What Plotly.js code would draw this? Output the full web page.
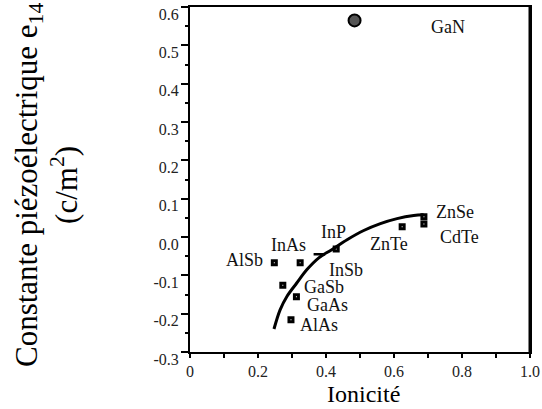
<!DOCTYPE html>
<html>
<head>
<meta charset="utf-8">
<script src="https://cdn.plot.ly/plotly-3.0.1.min.js"></script>
<style>html,body{margin:0;padding:0;background:#fff;}#chart{width:542px;height:409px;}</style>
</head>
<body>
<div id="chart"></div>
<script>
// ---- data ----
const compounds = ["GaN", "ZnSe", "CdTe", "ZnTe", "InP", "InAs", "AlSb", "InSb", "GaSb", "GaAs", "AlAs"];
const ionicity  = [0.484, 0.688, 0.688, 0.624, 0.430, 0.324, 0.248, 0.380, 0.273, 0.313, 0.297];
const e14       = [0.565, 0.053, 0.034, 0.027, -0.031, -0.067, -0.067, -0.045, -0.126, -0.156, -0.216];

const curveX = [0.247, 0.265, 0.285, 0.314, 0.344, 0.378, 0.417, 0.462, 0.511, 0.560, 0.609, 0.658, 0.687];
const curveY = [-0.240, -0.190, -0.155, -0.120, -0.085, -0.055, -0.033, -0.007, 0.017, 0.035, 0.048, 0.056, 0.058];

const xTickVals = [0, 0.2, 0.4, 0.6, 0.8, 1.0];
const xTickText = ["0", "0.2", "0.4", "0.6", "0.8", "1.0"];
const yTickVals = [-0.3, -0.2, -0.1, 0.0, 0.1, 0.2, 0.3, 0.4, 0.5, 0.6];
const yTickText = ["-0.3", "-0.2", "-0.1", "0.0", "0.1", "0.2", "0.3", "0.4", "0.5", "0.6"];

// ---- styles ----
const serif = "\"Liberation Serif\", \"Times New Roman\", serif";
const labelStyle = {
  GaN:  {anchor: "left",   dx: 74,  dy: -7},
  ZnSe: {anchor: "left",   dx: 10,  dy: 5},
  CdTe: {anchor: "left",   dx: 14,  dy: -13},
  ZnTe: {anchor: "left",   dx: -34, dy: -17},
  InP:  {anchor: "center", dx: -3,  dy: 17},
  InAs: {anchor: "center", dx: -12, dy: 18},
  AlSb: {anchor: "right",  dx: -9,  dy: 3},
  InSb: {anchor: "left",   dx: 8,   dy: -16},
  GaSb: {anchor: "left",   dx: 19,  dy: -2},
  GaAs: {anchor: "left",   dx: 9,   dy: -8},
  AlAs: {anchor: "left",   dx: 7,   dy: -5}
};

function pick(pred) {
  const xs = [], ys = [];
  compounds.forEach((c, i) => { if (pred(c)) { xs.push(ionicity[i]); ys.push(e14[i]); } });
  return {xs, ys};
}
const sq = pick(c => c !== "GaN" && c !== "InSb");
const dash = pick(c => c === "InSb");
const gan = pick(c => c === "GaN");

const traces = [
  {x: curveX, y: curveY, mode: "lines", line: {color: "#000", width: 3, shape: "spline"}, hoverinfo: "skip"},
  {x: sq.xs, y: sq.ys, mode: "markers",
   marker: {symbol: "square-open", size: 4, color: "#000", line: {color: "#000", width: 3}}},
  {x: dash.xs, y: dash.ys, mode: "markers",
   marker: {symbol: "line-ew", size: 8, color: "#000", line: {color: "#000", width: 2.5}}},
  {x: gan.xs, y: gan.ys, mode: "markers",
   marker: {symbol: "circle", size: 12, color: "#555", line: {color: "#000", width: 2}}}
];

const annotations = compounds.map((c, i) => ({
  x: ionicity[i], y: e14[i], xref: "x", yref: "y", text: c, showarrow: false,
  xanchor: labelStyle[c].anchor, yanchor: "middle",
  xshift: labelStyle[c].dx, yshift: labelStyle[c].dy,
  font: {family: serif, size: 18, color: "#111"}
}));
annotations.push({
  xref: "paper", yref: "paper", x: -0.4235, y: 0.484, xanchor: "center", yanchor: "middle",
  textangle: -90, showarrow: false,
  text: "Constante piézoélectrique e<sub>14</sub><br>(c/m<sup>2</sup>)",
  font: {family: serif, size: 31, color: "#000"}
});
annotations.push({
  xref: "paper", yref: "paper", x: 0.509, y: -0.121, xanchor: "center", yanchor: "middle",
  showarrow: false, text: "Ionicité",
  font: {family: serif, size: 24, color: "#000"}
});

const layout = {
  width: 542, height: 409,
  margin: {l: 190, r: 12, t: 7, b: 57, pad: 0},
  paper_bgcolor: "#fff", plot_bgcolor: "#fff",
  font: {family: serif, color: "#000"},
  showlegend: false,
  xaxis: {
    range: [0, 1], tickvals: xTickVals, ticktext: xTickText,
    ticks: "outside", ticklen: 4, tickwidth: 1.5, tickcolor: "#000",
    minor: {dtick: 0.1, tick0: 0, ticks: "outside", ticklen: 4, tickwidth: 1.5, tickcolor: "#000"},
    showline: true, linecolor: "#000", linewidth: 2, mirror: true,
    showgrid: false, zeroline: false,
    tickfont: {family: serif, size: 16, color: "#222"},
    ticklabelstandoff: 0
  },
  yaxis: {
    range: [-0.3, 0.6], tickvals: yTickVals, ticktext: yTickText,
    ticks: "outside", ticklen: 7, tickwidth: 2, tickcolor: "#000",
    minor: {dtick: 0.05, tick0: 0, ticks: "outside", ticklen: 3, tickwidth: 2, tickcolor: "#000"},
    showline: true, linecolor: "#000", linewidth: 2, mirror: true,
    showgrid: false, zeroline: false,
    tickfont: {family: serif, size: 16, color: "#222"},
    ticklabelshift: 7, ticklabelstandoff: -1
  },
  shapes: [
    {type: "line", xref: "paper", yref: "paper", x0: 1, x1: 1, y0: 0, y1: 1, line: {color: "#000", width: 3}}
  ],
  annotations: annotations
};

Plotly.newPlot("chart", traces, layout, {staticPlot: true});
</script>
</body>
</html>
